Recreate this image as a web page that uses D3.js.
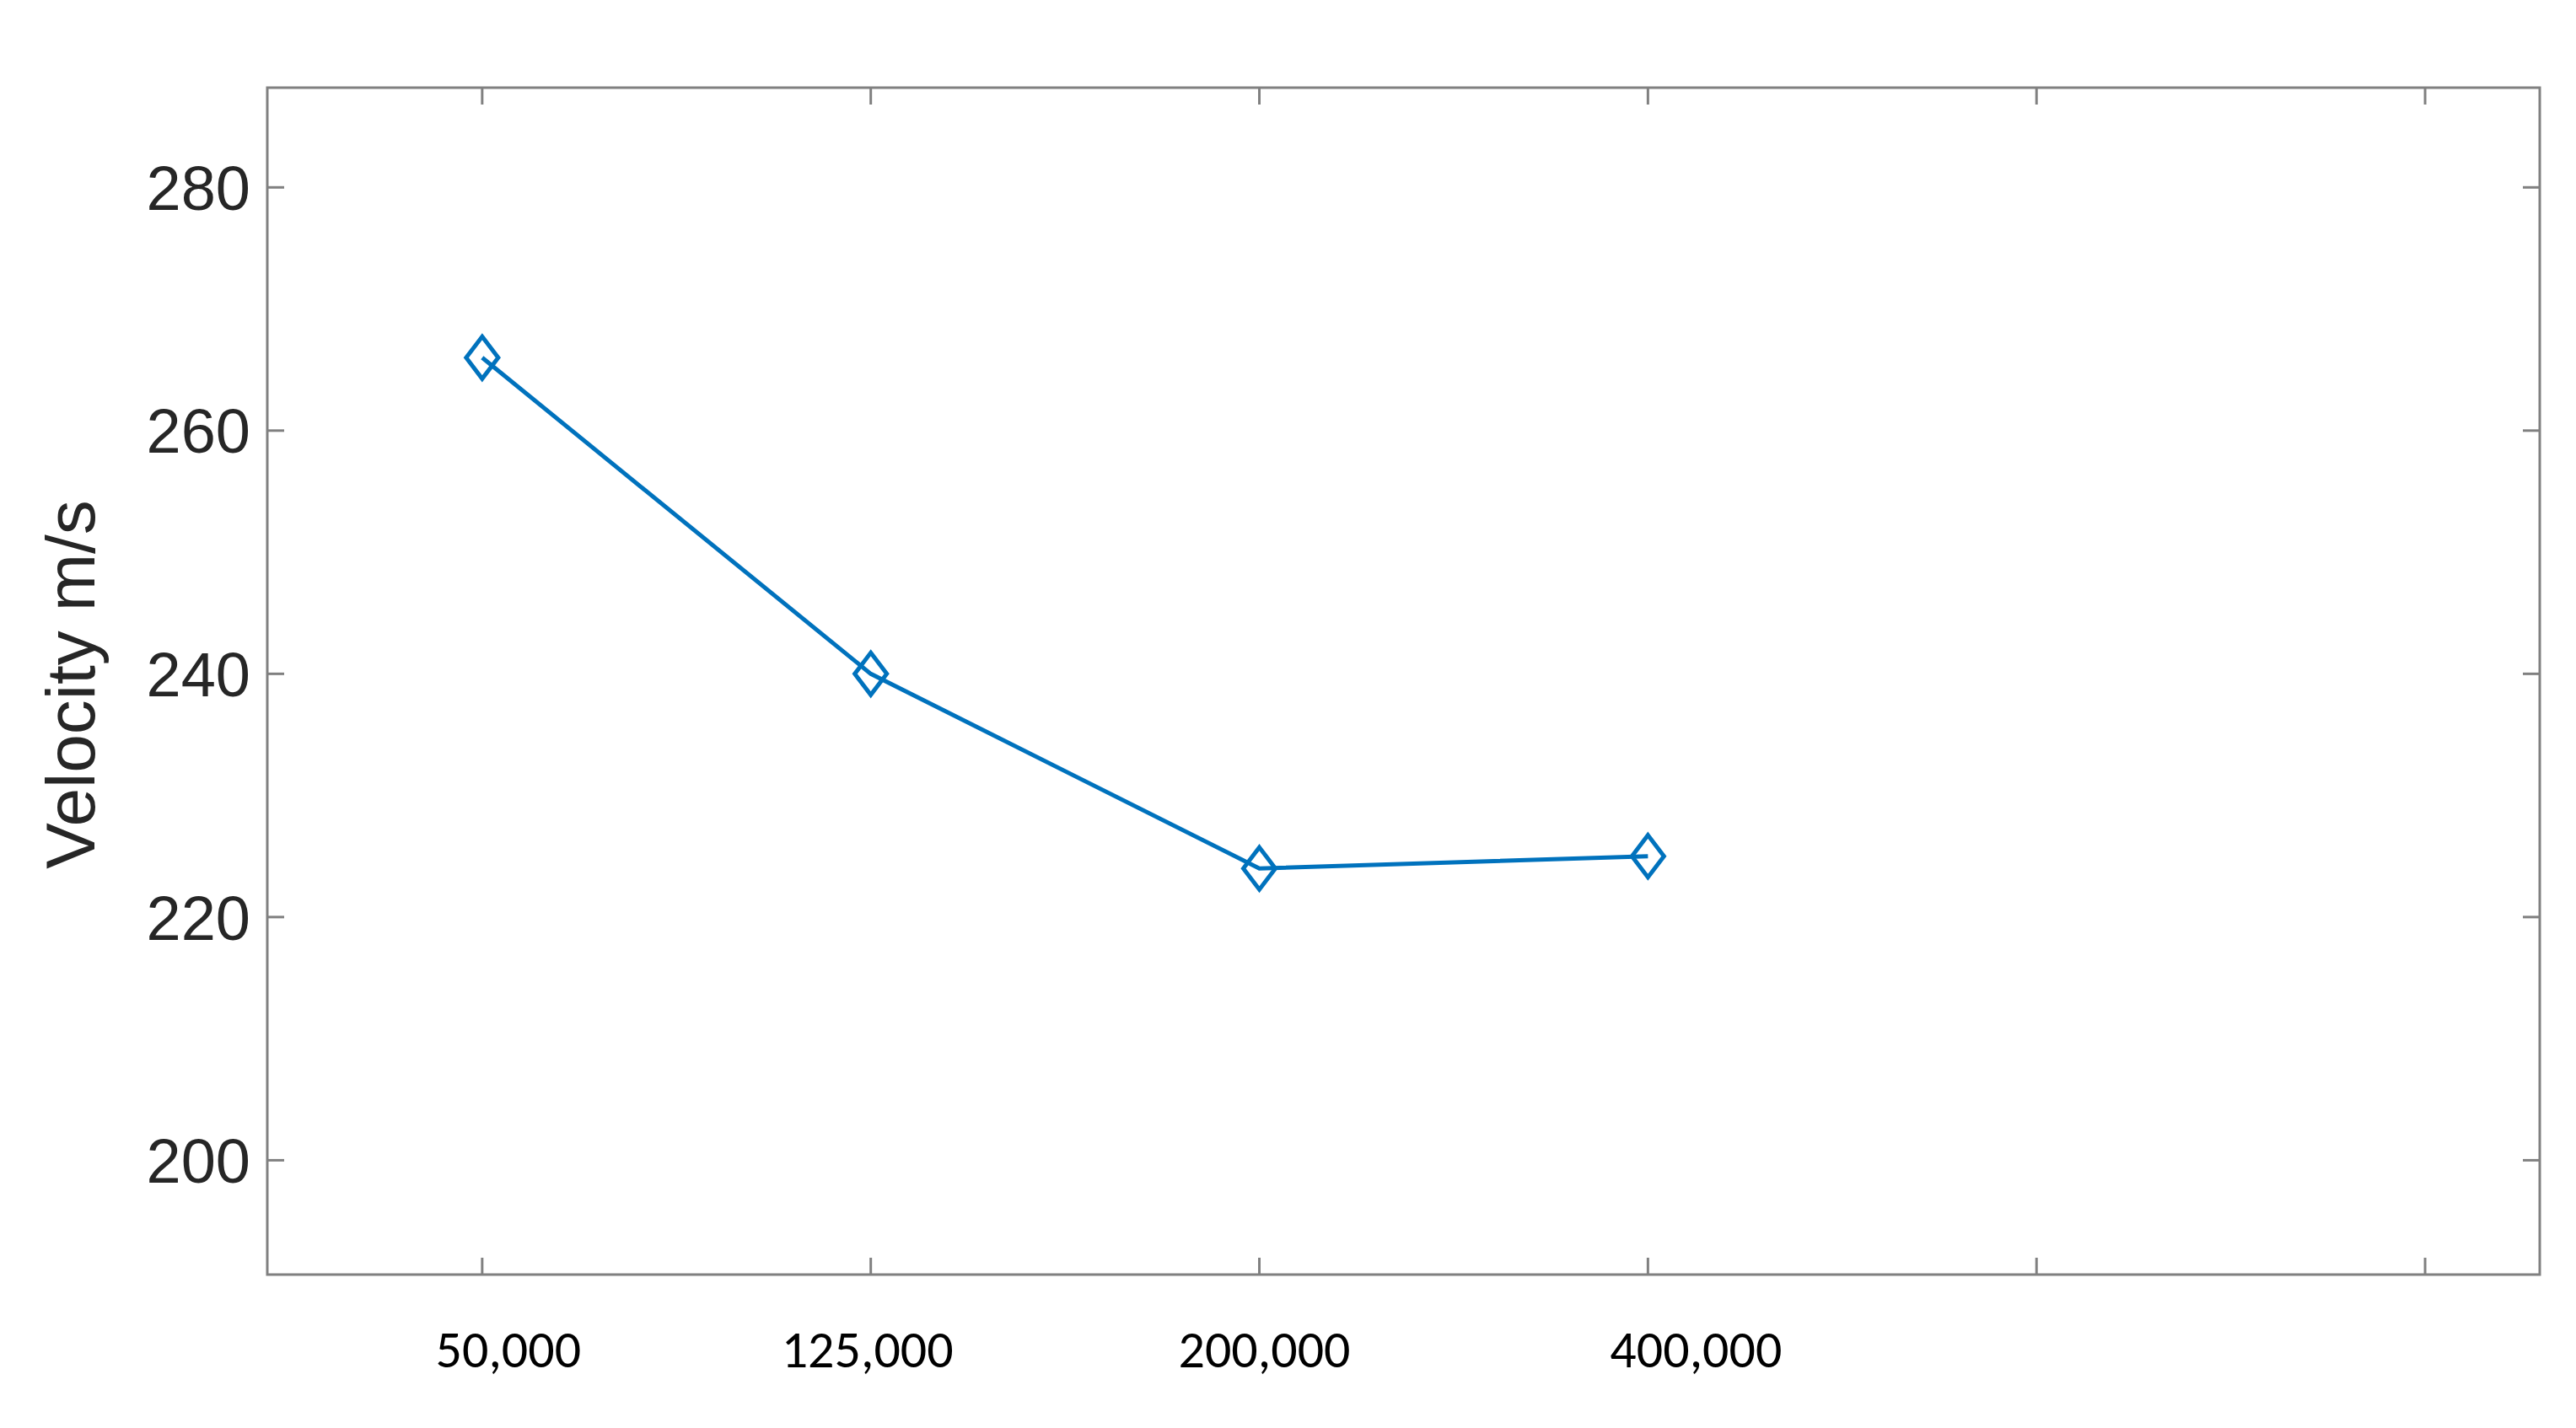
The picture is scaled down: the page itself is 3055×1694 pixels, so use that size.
<!DOCTYPE html><html><head><meta charset="utf-8">
<script src="https://cdn.jsdelivr.net/npm/d3@7"></script>
<style>body{margin:0;background:#fff}</style></head><body><svg id="c" width="3055" height="1694"></svg>
<script>
const categories=["50,000","125,000","200,000","400,000"];
const velocity=[266,240,224,225];
const yTicks=[200,220,240,260,280];
const xTickPositions=[1,2,3,4,5,6];
const svg=d3.select("#c");
const L=317,R=3012,T=104,B=1512;
const x=d3.scaleLinear().domain([0.447,6.295]).range([L,R]);
const y=d3.scaleLinear().domain([190.6,288.2]).range([B,T]);
const grey="#808080";
svg.append("rect").attr("x",L).attr("y",T).attr("width",R-L).attr("height",B-T).attr("fill","none").attr("stroke",grey).attr("stroke-width",3);
const tl=20;
xTickPositions.forEach(t=>{
 svg.append("line").attr("x1",x(t)).attr("x2",x(t)).attr("y1",B).attr("y2",B-tl).attr("stroke",grey).attr("stroke-width",3);
 svg.append("line").attr("x1",x(t)).attr("x2",x(t)).attr("y1",T).attr("y2",T+tl).attr("stroke",grey).attr("stroke-width",3);
});
yTicks.forEach(t=>{
 svg.append("line").attr("x1",L).attr("x2",L+tl).attr("y1",y(t)).attr("y2",y(t)).attr("stroke",grey).attr("stroke-width",3);
 svg.append("line").attr("x1",R).attr("x2",R-tl).attr("y1",y(t)).attr("y2",y(t)).attr("stroke",grey).attr("stroke-width",3);
 svg.append("text").attr("x",L-20).attr("y",y(t)).attr("dy","0.36em").attr("text-anchor","end")
  .attr("font-family","Liberation Sans, Arial").attr("font-size",74).attr("fill","#262626").text(t);
});
const labelOffsets=[31,-4,6,57];
categories.forEach((c,i)=>{
 svg.append("text").attr("x",x(i+1)+labelOffsets[i]).attr("y",1622).attr("text-anchor","middle")
  .attr("font-family","Carlito, Liberation Sans, sans-serif").attr("font-size",62).attr("fill","#000").text(c);
});
svg.append("text").attr("transform","translate(112,812) rotate(-90)").attr("text-anchor","middle")
 .attr("font-family","Liberation Sans, Arial").attr("font-size",82).attr("fill","#262626").text("Velocity m/s");
const col="#0072BD";
const line=d3.line().x((d,i)=>x(i+1)).y(d=>y(d));
svg.append("path").attr("d",line(velocity)).attr("fill","none").attr("stroke",col).attr("stroke-width",5);
velocity.forEach((v,i)=>{
 const cx=x(i+1),cy=y(v),w=19,h=25;
 svg.append("path").attr("d",`M${cx},${cy-h}L${cx+w},${cy}L${cx},${cy+h}L${cx-w},${cy}Z`).attr("fill","none").attr("stroke",col).attr("stroke-width",5);
});
</script></body></html>
